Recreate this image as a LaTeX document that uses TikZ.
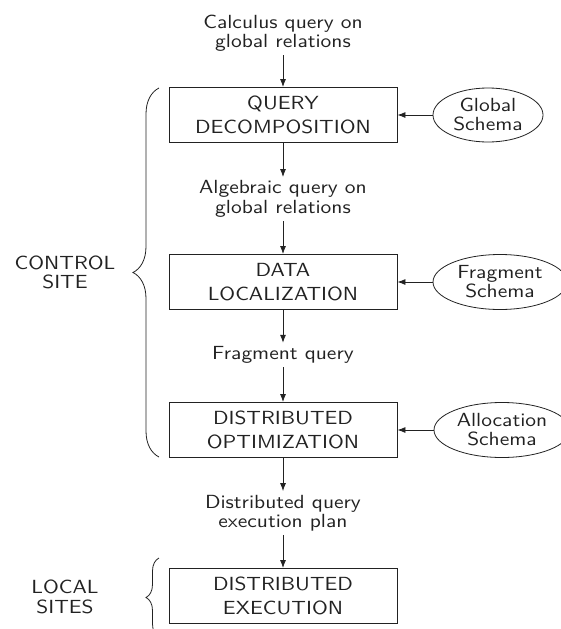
\documentclass[tikz,border=0pt]{standalone}
\usepackage{fontspec}
\setsansfont{lmsans10-regular.otf}[FakeStretch=1.13]
\usetikzlibrary{arrows.meta,decorations.pathreplacing,shapes.geometric}
\renewcommand{\familydefault}{\sfdefault}
\definecolor{ink}{HTML}{222222}
\begin{document}
\begin{tikzpicture}[x=1pt,y=-1pt,
  every node/.style={text=ink},
  stage/.style={draw=ink,line width=0.9pt,rectangle,minimum width=228pt,minimum height=55pt,
    align=center,inner sep=0pt,font=\fontsize{19}{23.5}\selectfont},
  schema/.style={draw=ink,line width=0.8pt,ellipse,inner sep=0pt,align=center,
    font=\fontsize{19}{19}\selectfont},
  flowlabel/.style={align=center,inner sep=3.5pt,font=\fontsize{19}{19.5}\selectfont},
  sitelabel/.style={align=center,inner sep=0pt,font=\fontsize{19}{19.5}\selectfont},
  flow/.style={draw=ink,line width=0.8pt,-{Latex[length=8pt,width=6pt]}},
  sitebrace/.style={draw=ink,line width=0.8pt,decorate},
]
\useasboundingbox (0,0) rectangle (561,629);

% processing stages
\node[stage] (decomp) at (283,115) {QUERY\\DECOMPOSITION};
\node[stage] (local)  at (283,282) {DATA\\LOCALIZATION};
\node[stage] (optim)  at (283,430) {DISTRIBUTED\\OPTIMIZATION};
\node[stage] (exec)   at (283,596) {DISTRIBUTED\\EXECUTION};

% intermediate query forms
\node[flowlabel] (calc) at (283,33)  {Calculus query on\\global relations};
\node[flowlabel] (alg)  at (283,199) {Algebraic query on\\global relations};
\node[flowlabel] (frag) at (283,355) {Fragment query};
\node[flowlabel] (plan) at (283,513) {Distributed query\\execution plan};

% schemas feeding each stage
\node[schema,minimum width=110pt,minimum height=54pt] (gs) at (488,115) {Global\\Schema};
\node[schema,minimum width=134pt,minimum height=55pt] (fs) at (500,282) {Fragment\\Schema};
\node[schema,minimum width=136pt,minimum height=55pt] (as) at (502,430) {Allocation\\Schema};

% vertical flow
\draw[flow] (calc) -- (decomp);
\draw[flow] (decomp) -- (alg);
\draw[flow] (alg) -- (local);
\draw[flow] (local) -- (frag);
\draw[flow] (frag) -- (optim);
\draw[flow] (optim) -- (plan);
\draw[flow] (plan) -- (exec);

% schema inputs
\draw[flow] (gs) -- (decomp);
\draw[flow] (fs) -- (local);
\draw[flow] (as) -- (optim);

% site groupings
\coordinate (ctlbot) at (159,457);
\coordinate (ctltop) at (159,88);
\coordinate (locbot) at (159,637);
\coordinate (loctop) at (159,558);
\draw[sitebrace,decoration={brace,amplitude=26pt}] (ctlbot) -- (ctltop);
\draw[sitebrace,decoration={brace,amplitude=13pt}] (locbot) -- (loctop);
\node[sitelabel] (ctl) at (65,272.5) {CONTROL\\SITE};
\node[sitelabel] (loc) at (65,597) {LOCAL\\SITES};
\end{tikzpicture}
\end{document}
